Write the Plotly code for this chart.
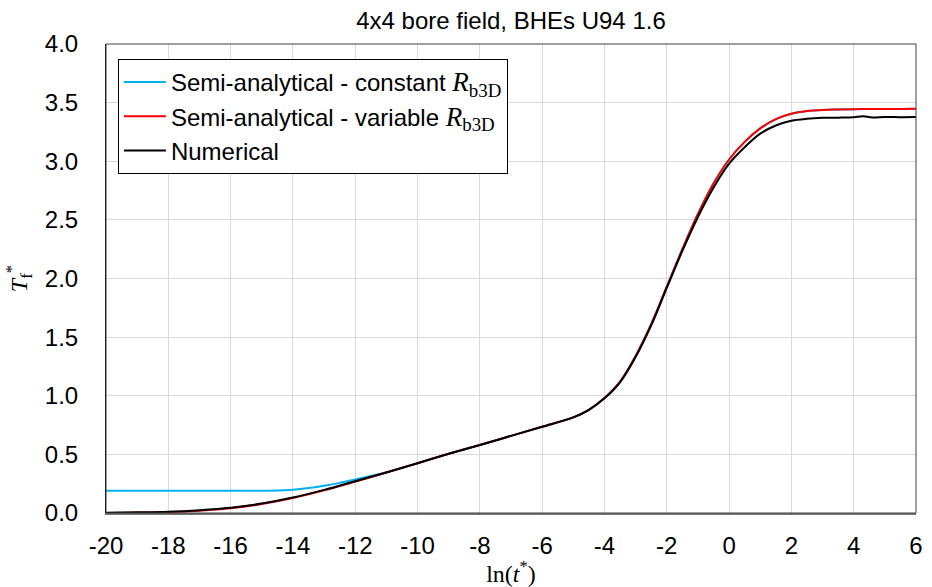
import plotly.graph_objects as go

# ---- data ----
x_common = [-20, -19, -18, -17, -16, -15, -14, -13, -12, -11, -10, -9, -8, -7, -6, -5, -4.5, -4,
            -3.5, -3, -2.5, -2, -1.5, -1, -0.5, 0, 0.5, 1, 1.5, 2, 2.5, 3, 3.5, 4, 4.5, 5, 5.5, 6]

t_variable = [0.0, 0.003, 0.008, 0.02, 0.041, 0.077, 0.128, 0.193, 0.268, 0.345, 0.425, 0.505, 0.58,
              0.658, 0.735, 0.815, 0.88, 0.98, 1.12, 1.34, 1.61, 1.93, 2.25, 2.55, 2.81, 3.015, 3.165,
              3.28, 3.36, 3.405, 3.428, 3.438, 3.442, 3.444, 3.445, 3.446, 3.446, 3.447]

x_constant = [-20, -19, -18, -17, -16, -15, -14.5, -14, -13.5, -13, -12.5, -12, -11.5, -11, -10, -9, -8,
              -7, -6, -5, -4.5, -4, -3.5, -3, -2.5, -2, -1.5, -1, -0.5, 0, 0.5, 1, 1.5, 2, 2.5, 3,
              3.5, 4, 4.5, 5, 5.5, 6]
t_constant = [0.19, 0.19, 0.19, 0.19, 0.19, 0.19, 0.191, 0.199, 0.213, 0.232, 0.257, 0.286, 0.316, 0.348,
              0.425, 0.505, 0.58, 0.658, 0.735, 0.815, 0.88, 0.98, 1.12, 1.34, 1.61, 1.93, 2.25, 2.55,
              2.81, 3.015, 3.165, 3.28, 3.36, 3.405, 3.428, 3.438, 3.442, 3.444, 3.445, 3.446, 3.446,
              3.447]

x_numerical = [-20, -19, -18, -17, -16, -15, -14, -13, -12, -11, -10, -9, -8, -7, -6, -5, -4.5, -4,
               -3.5, -3, -2.5, -2, -1.5, -1, -0.5, 0, 0.5, 1, 1.5, 2, 2.5, 3, 3.5, 4, 4.3, 4.6, 5,
               5.5, 6]
t_numerical = [0.003, 0.006, 0.011, 0.024, 0.045, 0.081, 0.132, 0.197, 0.271, 0.346, 0.425, 0.505, 0.58,
               0.658, 0.735, 0.815, 0.88, 0.978, 1.115, 1.33, 1.6, 1.92, 2.235, 2.525, 2.775, 2.98,
               3.12, 3.235, 3.305, 3.345, 3.362, 3.37, 3.372, 3.376, 3.384, 3.374, 3.378, 3.376, 3.377]

x_tickvals = [-20, -18, -16, -14, -12, -10, -8, -6, -4, -2, 0, 2, 4, 6]
x_ticktext = ["-20", "-18", "-16", "-14", "-12", "-10", "-8", "-6", "-4", "-2", "0", "2", "4", "6"]
y_tickvals = [0, 0.5, 1, 1.5, 2, 2.5, 3, 3.5, 4]
y_ticktext = ["0.0", "0.5", "1.0", "1.5", "2.0", "2.5", "3.0", "3.5", "4.0"]

R_LABEL = ('<span style="font-family:\'Liberation Serif\';font-size:27px"><i>R</i>'
           '<sub>b3D</sub></span>')
series_names = [
    "Semi-analytical - constant " + R_LABEL,
    "Semi-analytical - variable " + R_LABEL,
    "Numerical",
]
title_text = "4x4 bore field, BHEs U94 1.6"
x_title = '<span style="font-family:\'Liberation Serif\'">ln(<i>t</i><sup>*</sup>)</span>'
y_title = '<span style="font-family:\'Liberation Serif\'"><i>T</i><sub>f</sub><sup>*</sup></span>'

FONT = "Liberation Sans, Arial, sans-serif"

fig = go.Figure()
fig.add_trace(go.Scatter(x=x_constant, y=t_constant, mode="lines", name=series_names[0],
                         line=dict(color="#00B0F0", width=2, shape="spline")))
fig.add_trace(go.Scatter(x=x_common, y=t_variable, mode="lines", name=series_names[1],
                         line=dict(color="#FF0000", width=2, shape="spline")))
fig.add_trace(go.Scatter(x=x_numerical, y=t_numerical, mode="lines", name=series_names[2],
                         line=dict(color="#000000", width=2, shape="spline")))

fig.update_layout(
    width=932, height=587,
    margin=dict(l=106, r=9, t=44, b=74),
    paper_bgcolor="white", plot_bgcolor="white",
    font=dict(family=FONT, size=24, color="#000000"),
    title=dict(text=title_text, x=0.5, xref="paper", xanchor="center", y=0.965, yanchor="middle",
               font=dict(family=FONT, size=24, color="#000000")),
    showlegend=True,
    legend=dict(x=0.0147, y=0.968, xanchor="left", yanchor="top",
                bgcolor="white", bordercolor="#000000", borderwidth=1,
                font=dict(family=FONT, size=24), itemwidth=42, tracegroupgap=0,
                traceorder="normal"),
)

fig.update_xaxes(range=[-20, 6], tickvals=x_tickvals, ticktext=x_ticktext,
                 showgrid=True, gridcolor="#D9D9D9", gridwidth=1,
                 zeroline=False, showline=True, linecolor="#767676", linewidth=2,
                 ticks="outside", ticklen=10, tickcolor="rgba(0,0,0,0)",
                 tickfont=dict(family=FONT, size=24),
                 title=dict(text=x_title, font=dict(family="Liberation Serif", size=24), standoff=0))
fig.update_yaxes(range=[0, 4], tickvals=y_tickvals, ticktext=y_ticktext,
                 showgrid=True, gridcolor="#D9D9D9",
                 gridwidth=1, zeroline=False, showline=True, linecolor="#000000", linewidth=1,
                 ticks="outside", ticklen=22, tickcolor="rgba(0,0,0,0)",
                 tickfont=dict(family=FONT, size=24),
                 title=dict(text=y_title, font=dict(family="Liberation Serif", size=24), standoff=10))

# plot-area border
fig.add_shape(type="rect", xref="paper", yref="paper", x0=0, y0=0, x1=1, y1=1,
              line=dict(color="#404040", width=1), layer="above")

fig.write_html("out.html")
